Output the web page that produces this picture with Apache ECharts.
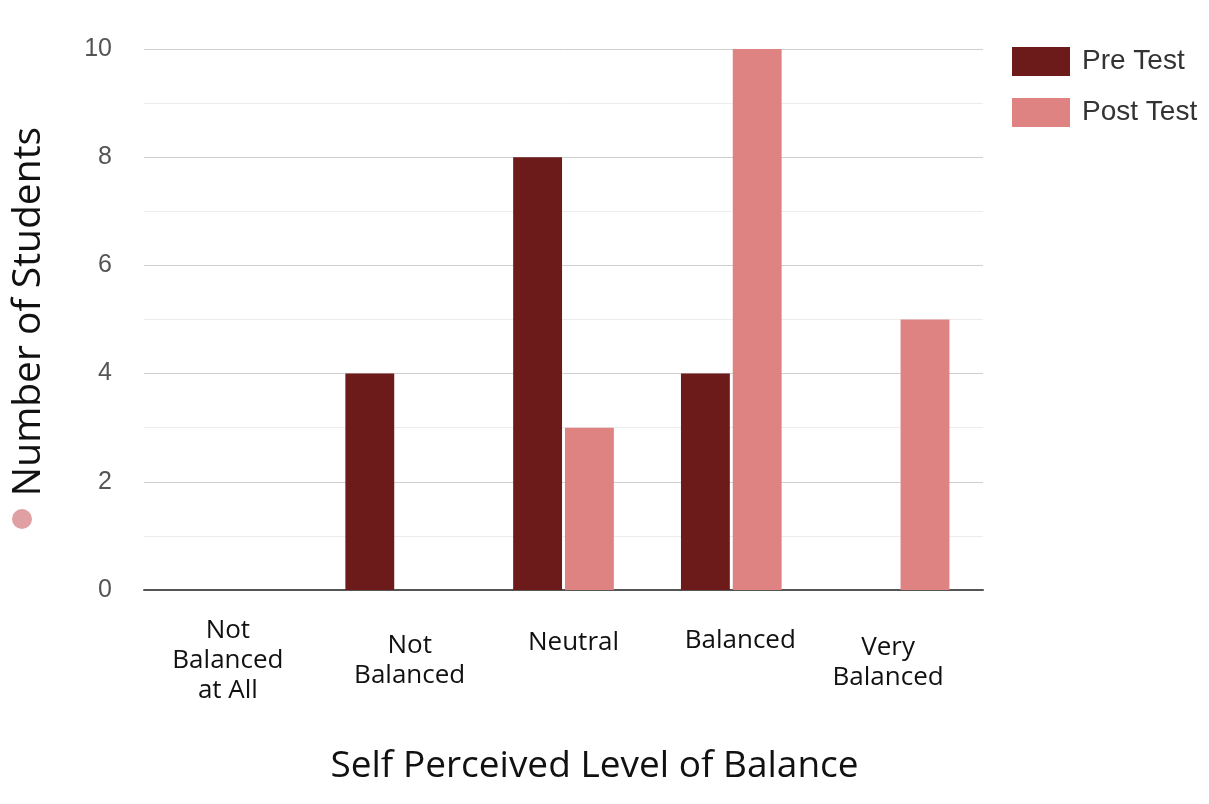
<!DOCTYPE html>
<html>
<head>
<meta charset="utf-8">
<script src="https://cdn.jsdelivr.net/npm/echarts@6/dist/echarts.min.js"></script>
<style>
  html, body { margin: 0; padding: 0; background: #ffffff; }
  #chart { width: 1209px; height: 804px; }
</style>
</head>
<body>
<div id="chart"></div>
<script>
// Self-perceived balance survey: counts of students per level, before and after
const categories = ['Not\nBalanced\nat All', 'Not\nBalanced', 'Neutral', 'Balanced', 'Very\nBalanced'];
const preTest = [0, 4, 8, 4, 0];
const postTest = [0, 0, 3, 10, 5];
const yTicks = [0, 2, 4, 6, 8, 10];

// per-category label nudges [top, right, bottom, left]
const labelPads = [[0, 0, 0, 0], [15, 0, 0, 28], [12, 0, 0, 20], [10, 0, 0, 18], [17, 22, 0, 0]];

const chart = echarts.init(document.getElementById('chart'), null, { renderer: 'canvas' });

const option = {
  backgroundColor: '#ffffff',
  animation: false,
  grid: { left: 144, right: 226, top: 49, bottom: 214, containLabel: false, outerBoundsMode: 'none' },
  legend: {
    orient: 'vertical',
    left: 1007,
    top: 42,
    itemWidth: 58,
    itemHeight: 29,
    itemGap: 22,
    icon: 'rect',
    textStyle: { fontFamily: 'Liberation Sans', fontSize: 28, color: '#333', padding: [0, 0, 0, 7] },
    data: ['Pre Test', 'Post Test']
  },
  xAxis: {
    type: 'category',
    data: categories.map((c, i) => ({ value: c, textStyle: { padding: labelPads[i] } })),
    axisLine: { lineStyle: { color: '#555', width: 2 } },
    axisTick: { show: false },
    axisLabel: {
      interval: 0,
      margin: 26,
      fontFamily: 'Open Sans',
      fontSize: 26,
      lineHeight: 30,
      color: '#111',
      align: 'center',
      verticalAlign: 'top'
    },
    name: 'Self Perceived Level of Balance',
    nameLocation: 'middle',
    nameGap: 158,
    nameTextStyle: { fontFamily: 'Open Sans', fontSize: 37, color: '#111', padding: [0, 0, 0, 62] }
  },
  yAxis: {
    type: 'value',
    min: yTicks[0],
    max: yTicks[yTicks.length - 1],
    interval: 2,
    axisLine: { show: false },
    axisTick: { show: false },
    axisLabel: { margin: 32, fontFamily: 'Liberation Sans', fontSize: 25, color: '#555' },
    splitLine: { lineStyle: { color: '#cfcfcf', width: 1 } },
    minorTick: { show: false, splitNumber: 2 },
    minorSplitLine: { show: true, lineStyle: { color: '#ececec', width: 1 } },
    name: 'Number of Students',
    nameLocation: 'middle',
    nameGap: 96,
    nameRotate: 90,
    nameTextStyle: { fontFamily: 'Open Sans', fontSize: 39, color: '#111', padding: [0, 0, 0, 16] }
  },
  series: [
    {
      name: 'Pre Test',
      type: 'bar',
      data: preTest,
      barGap: '6%',
      barCategoryGap: '40%',
      itemStyle: { color: '#6d1a1a' }
    },
    {
      name: 'Post Test',
      type: 'bar',
      data: postTest,
      itemStyle: { color: '#df8282' }
    }
  ],
  graphic: [
    { type: 'circle', shape: { cx: 22, cy: 519, r: 10 }, style: { fill: '#e09fa2' } }
  ]
};

chart.setOption(option);
</script>
</body>
</html>
